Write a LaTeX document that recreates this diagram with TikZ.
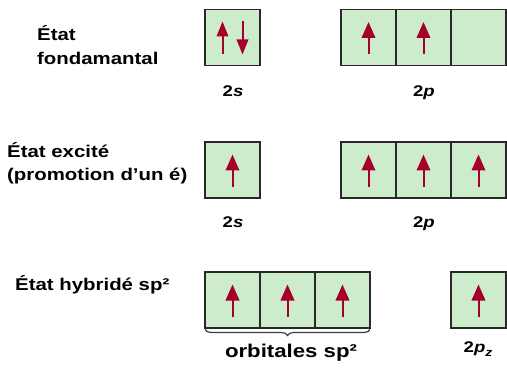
\documentclass[tikz,border=0pt]{standalone}
\usepackage{fontspec}
\setmainfont{Liberation Sans}[FakeStretch=1.2]
\usetikzlibrary{arrows.meta,decorations.pathreplacing}
\definecolor{spinred}{RGB}{165,0,42}
\definecolor{orbfill}{RGB}{205,236,204}
\definecolor{orbline}{RGB}{40,40,40}
\begin{document}
\begin{tikzpicture}[x=1pt,y=-1pt,
  orb/.style={draw=orbline, line width=1.8pt, fill=orbfill, minimum width=55pt, minimum height=56pt, inner sep=0pt, outer sep=0pt},
  lab/.style={anchor=base west, inner sep=0pt, font=\fontsize{17}{20}\selectfont\bfseries},
  sublab/.style={anchor=base, inner sep=0pt, font=\fontsize{15.5}{17}\selectfont\bfseries},
  spin/.style={draw=spinred, line width=2pt, -{Triangle[length=16pt,width=13.5pt]}},
  spinsm/.style={draw=spinred, line width=2pt, -{Triangle[length=15pt,width=11.5pt]}},
  bracestyle/.style={draw=orbline!90, line width=1.2pt, decorate, decoration={brace,mirror,amplitude=6pt,raise=1.5pt}}
  ]
\useasboundingbox (0,0) rectangle (507,369);

% ---- Row 1: ground state
\node[lab] (f1) at (37,41) {État};
\node[lab] (f2) at (37,65) {fondamantal};
\node[orb] (a0) at (232.5,37.5) {};
\node[orb] (a1) at (368.5,37.5) {};
\node[orb] (a2) at (423.5,37.5) {};
\node[orb] (a3) at (478.5,37.5) {};
\draw[spinsm] ([xshift=-10pt,yshift=-17pt]a0.center) -- ([xshift=-10pt,yshift=16pt]a0.center);
\draw[spinsm] ([xshift=10pt,yshift=16pt]a0.center) -- ([xshift=10pt,yshift=-17pt]a0.center);
\draw[spin] ([yshift=-17pt]a1.center) -- ([yshift=15.5pt]a1.center);
\draw[spin] ([yshift=-17pt]a2.center) -- ([yshift=15.5pt]a2.center);
\node[sublab] (s1) at (233,97) {2\textit{s}};
\node[sublab] (p1) at (424,97) {2\textit{p}};

% ---- Row 2: excited state
\node[lab] (e1) at (7,158) {État excité};
\node[lab] (e2) at (7,180) {(promotion d'un é)};
\node[orb] (b0) at (232.5,170) {};
\node[orb] (b1) at (368.5,170) {};
\node[orb] (b2) at (423.5,170) {};
\node[orb] (b3) at (478.5,170) {};
\draw[spin] ([yshift=-17pt]b0.center) -- ([yshift=15.5pt]b0.center);
\draw[spin] ([yshift=-17pt]b1.center) -- ([yshift=15.5pt]b1.center);
\draw[spin] ([yshift=-17pt]b2.center) -- ([yshift=15.5pt]b2.center);
\draw[spin] ([yshift=-17pt]b3.center) -- ([yshift=15.5pt]b3.center);
\node[sublab] (s2) at (233,228) {2\textit{s}};
\node[sublab] (p2) at (424,228) {2\textit{p}};

% ---- Row 3: sp2 hybridized state
\node[lab] (h0) at (15,290) {État hybridé sp²};
\node[orb] (h1) at (232.5,300) {};
\node[orb] (h2) at (287.5,300) {};
\node[orb] (h3) at (342.5,300) {};
\node[orb] (hz) at (478.5,300) {};
\draw[spin] ([yshift=-17pt]h1.center) -- ([yshift=15.5pt]h1.center);
\draw[spin] ([yshift=-17pt]h2.center) -- ([yshift=15.5pt]h2.center);
\draw[spin] ([yshift=-17pt]h3.center) -- ([yshift=15.5pt]h3.center);
\draw[spin] ([yshift=-17pt]hz.center) -- ([yshift=15.5pt]hz.center);
\draw[bracestyle] (h1.south west) -- (h3.south east);
\node[anchor=base, inner sep=0pt, font=\fontsize{18.5}{20}\selectfont\bfseries] (orbl) at (291,357) {orbitales sp²};
\node[sublab] (pz) at (478,352) {2\textit{p}\raisebox{-5pt}{\fontsize{11.5}{12}\selectfont\textit{z}}};
\end{tikzpicture}
\end{document}
